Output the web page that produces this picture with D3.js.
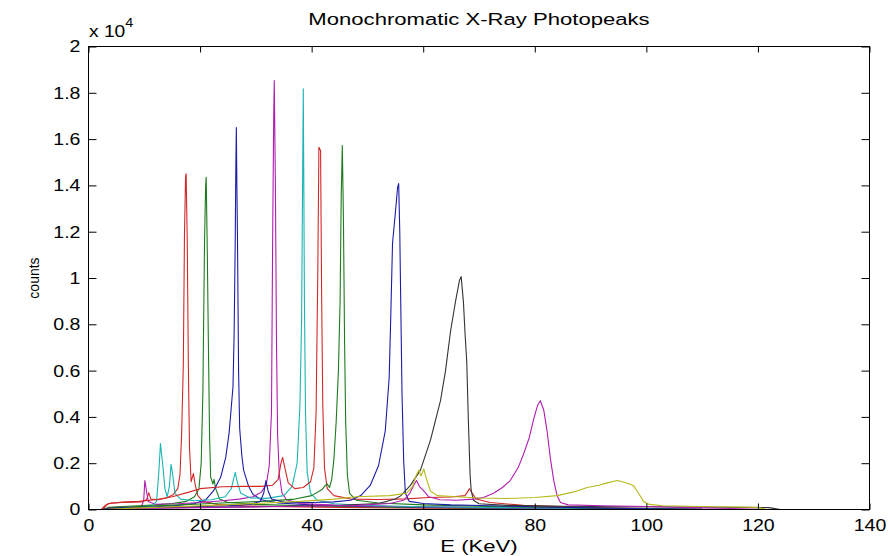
<!DOCTYPE html>
<meta charset="utf-8">
<style>
body{
  margin: 0;
  background: white;
  font-family: "Liberation Sans", Arial, Helvetica, sans-serif;
}
.axis text{ font-size: 17px; fill: #000; }
.axis line{ stroke: #000; }
.axis path{ display: none; }
.spec{ fill: none; stroke-width: 1.1; stroke-linejoin: round; }
</style>
<body>
<svg id="chart" width="890" height="556"></svg>
<script src="https://cdn.jsdelivr.net/npm/d3@7"></script>
<script>

// each series: [energy keV, counts]
var redA = [[2.3,0],[3.0,180],[4,280],[6,300],[8,320],[9.5,330],[10.4,420],[10.8,720],[11.2,450],[12.5,420],[14,500],[15.2,650],[16,900],[16.4,1500],[16.7,3300],[17.0,6300],[17.2,11800],[17.4,14400],[17.5,14500],[17.7,11600],[17.9,6300],[18.1,2700],[18.4,1200],[18.8,1550],[19.1,1100],[19.6,600],[20.5,350],[23,220],[28,160],[35,120],[45,90],[60,60],[80,30],[100,10]]

var greenA = [[2.5,0],[3.5,90],[6,130],[9,160],[12,200],[15,260],[17.5,350],[19,550],[19.8,900],[20.2,2000],[20.5,5000],[20.8,11600],[21.0,14000],[21.1,14350],[21.3,11000],[21.5,7000],[21.7,3200],[21.9,1400],[22.3,1100],[22.5,1300],[22.8,900],[23.5,450],[25,300],[30,220],[40,150],[55,100],[75,50],[100,15]]

var blueA = [[2.5,0],[4,60],[8,90],[12,120],[16,180],[19,260],[21,420],[22.4,800],[23.7,1400],[24.6,2250],[25.2,3300],[25.5,4150],[25.9,5300],[26.1,7500],[26.3,11500],[26.4,14500],[26.5,16500],[26.6,14000],[26.7,11900],[26.9,6000],[27.1,3500],[27.5,2300],[27.8,1700],[28.7,1000],[29.5,650],[31,420],[34,280],[40,200],[50,140],[65,90],[85,40],[105,10]]

var magentaA = [[2.5,0],[4,80],[7,100],[9.5,130],[9.9,400],[10.1,1250],[10.4,800],[10.7,350],[12,230],[16,250],[20,300],[24,380],[27,450],[29.5,550],[31,750],[31.9,1100],[32.4,1900],[32.8,4200],[33.0,11300],[33.2,17000],[33.3,18530],[33.5,14100],[33.7,7200],[33.9,3200],[34.2,1500],[34.7,700],[35.5,420],[38,260],[45,180],[55,130],[70,80],[90,40],[110,10]]

var cyanA = [[2.5,0],[5,70],[9,110],[11.5,180],[12.2,350],[12.6,1600],[12.9,2850],[13.1,2400],[13.4,1700],[13.7,900],[14.1,550],[14.5,1000],[14.8,1950],[15.1,1500],[15.5,700],[16.5,450],[19,380],[22,420],[24.5,550],[25.6,900],[26.0,1300],[26.3,1600],[26.7,1150],[27.3,700],[29,500],[32,480],[35,600],[36.5,1000],[37.4,2000],[37.9,4500],[38.2,8200],[38.4,14800],[38.5,18170],[38.6,14000],[38.7,9200],[38.9,4200],[39.2,1600],[39.8,700],[41,400],[44,250],[50,170],[60,120],[75,80],[90,40],[105,10]]

var redB = [[2.5,0],[3.5,250],[6,320],[9,350],[12,420],[15,550],[18,750],[20,900],[24,980],[28,1000],[31,1000],[33,1050],[34.0,1300],[34.5,2000],[34.8,2250],[35.2,1800],[35.8,1150],[37,900],[38.5,950],[39.8,1200],[40.4,1800],[40.8,4200],[41.1,10200],[41.3,15650],[41.6,15500],[41.8,9000],[42.0,4500],[42.3,1800],[42.8,900],[44,600],[47,450],[52,430],[57,460],[61,520],[65,540],[67.5,600],[68.3,900],[68.8,700],[69.5,450],[72,300],[78,180],[90,80],[105,20]]

var greenB = [[2.5,0],[4,70],[8,120],[14,180],[20,240],[26,300],[32,360],[37,450],[40,600],[41.8,850],[42.5,1050],[42.8,1100],[43.2,950],[43.6,1300],[44.0,2200],[44.4,3800],[44.8,6000],[45.1,9000],[45.3,13500],[45.5,15720],[45.7,12500],[45.9,7300],[46.1,3800],[46.4,1500],[46.8,700],[48,400],[52,280],[60,200],[72,130],[90,60],[110,15]]

var blueB = [[2.5,0],[5,60],[10,90],[18,120],[25,160],[29,220],[30.8,350],[31.4,700],[31.8,1250],[32.2,800],[32.8,450],[35,320],[40,300],[44,330],[47,400],[48.8,600],[50.5,1040],[52,1900],[53.2,3400],[53.9,5700],[54.2,8500],[54.5,11500],[55,12800],[55.4,13900],[55.6,14080],[55.8,12000],[55.9,10200],[56.2,5000],[56.5,2100],[56.8,700],[57.5,350],[60,260],[65,200],[72,160],[80,120],[90,70],[100,30],[110,10]]

var black = [[3,0],[6,50],[15,80],[25,110],[35,140],[45,180],[52,260],[55,450],[56,600],[57.7,1040],[59.5,1700],[61.3,3000],[63.1,4700],[64.0,6000],[64.9,7700],[65.8,9000],[66.5,9900],[66.8,10060],[67.2,9000],[67.5,7600],[67.8,6400],[68.1,3800],[68.4,1500],[68.6,820],[69.0,400],[70,250],[75,180],[85,140],[95,120],[105,110],[115,100],[122,80],[124,0]]

var magentaB = [[3,0],[8,40],[20,80],[35,130],[48,180],[54,260],[56.5,400],[57.6,700],[58.3,1050],[58.8,1250],[59.3,1000],[60.1,800],[61,550],[63,420],[66,400],[69,450],[70.8,520],[72.6,700],[74.2,950],[75.6,1250],[77,1800],[78,2400],[79,3100],[79.8,3900],[80.5,4500],[81,4700],[81.6,4300],[82.2,3400],[82.8,2200],[83.4,1250],[84,600],[84.6,300],[86,200],[92,160],[100,130],[108,80],[115,40],[120,10]]

var yellow = [[3,0],[8,60],[15,120],[22,180],[30,260],[38,350],[44,450],[48,550],[54,600],[57,700],[58.1,1000],[58.7,1450],[59.2,1700],[59.6,1450],[60.1,1750],[60.6,1300],[61.3,800],[62.5,600],[66,550],[70,500],[75,475],[80,520],[84,600],[87,760],[89.4,950],[91.5,1050],[93,1150],[94.8,1250],[96,1180],[97,1100],[97.7,1030],[98.6,700],[99.5,350],[100.5,220],[103,160],[110,130],[116,110],[120,90],[121.5,0]]

var seriesData = [redA, greenA, blueA, magentaA, cyanA, redB, greenB, blueB, black, magentaB, yellow]
var seriesColors = ['#d02828', '#1e7a1e', '#1c1ca8', '#b01cb0', '#1cb4b4', '#d02828', '#1e7a1e', '#1c1ca8', '#333333', '#b01cb0', '#b8b81c']

var xTicks = [0, 20, 40, 60, 80, 100, 120, 140]
var yTicks = [0, 2000, 4000, 6000, 8000, 10000, 12000, 14000, 16000, 18000, 20000]
var yTickLabels = ['0', '0.2', '0.4', '0.6', '0.8', '1', '1.2', '1.4', '1.6', '1.8', '2']

var plotL = 88.5, plotR = 869.5, plotT = 46.5, plotB = 509.5
var stretch = 1.15

var svg = d3.select('#chart')

var x = d3.scaleLinear().domain([0, 140]).range([plotL, plotR])
var y = d3.scaleLinear().domain([0, 20000]).range([plotB, plotT])

svg.append('clipPath').attr('id', 'clip')
  .append('rect').attr('x', plotL).attr('y', plotT).attr('width', plotR - plotL).attr('height', plotB - plotT)

var line = d3.line()
    .x(function(d){ return x(d[0]) })
    .y(function(d){ return y(d[1]) })

svg.append('g').attr('clip-path', 'url(#clip)')
  .selectAll('path')
  .data(seriesData)
  .enter().append('path')
    .attr('class', 'spec')
    .attr('d', line)
    .style('stroke', function(d, i){ return seriesColors[i] })

// axes, ticks pointing inward like matlab
var gx = svg.append('g').attr('class', 'axis')
    .attr('transform', 'translate(0,' + plotB + ')')
    .call(d3.axisBottom(x).tickValues(xTicks).tickSize(-6).tickPadding(9).tickFormat(d3.format('d')))
gx.selectAll('text').attr('transform', 'scale(' + stretch + ',1)')

svg.append('g').attr('class', 'axis')
    .attr('transform', 'translate(0,' + plotT + ')')
    .call(d3.axisTop(x).tickValues(xTicks).tickSize(-6).tickFormat(''))

var gy = svg.append('g').attr('class', 'axis')
    .attr('transform', 'translate(' + plotL + ',0)')
    .call(d3.axisLeft(y).tickValues(yTicks).tickSize(-8).tickPadding(7)
      .tickFormat(function(d, i){ return yTickLabels[i] }))
gy.selectAll('text').attr('transform', 'scale(' + stretch + ',1)')

svg.append('g').attr('class', 'axis')
    .attr('transform', 'translate(' + plotR + ',0)')
    .call(d3.axisRight(y).tickValues(yTicks).tickSize(-8).tickFormat(''))

svg.append('rect')
    .attr('x', plotL).attr('y', plotT)
    .attr('width', plotR - plotL).attr('height', plotB - plotT)
    .style('fill', 'none').style('stroke', '#000')

// labels
svg.append('text')
    .attr('transform', 'translate(' + (plotL + plotR) / 2 + ',25) scale(1.3,1)')
    .attr('text-anchor', 'middle')
    .style('font-size', '17px')
    .text('Monochromatic X-Ray Photopeaks')

svg.append('text')
    .attr('transform', 'translate(' + (plotL + plotR) / 2 + ',552) scale(1.3,1)')
    .attr('text-anchor', 'middle')
    .style('font-size', '17px')
    .text('E (KeV)')

svg.append('text')
    .attr('transform', 'translate(39,' + (plotT + plotB) / 2 + ') rotate(-90)')
    .attr('text-anchor', 'middle')
    .style('font-size', '14px')
    .text('counts')

var mult = svg.append('text')
    .attr('transform', 'translate(89,37) scale(1.2,1)')
    .style('font-size', '16px')
mult.append('tspan').text('x 10')
mult.append('tspan').attr('dy', -10).style('font-size', '12px').text('4')

</script>
